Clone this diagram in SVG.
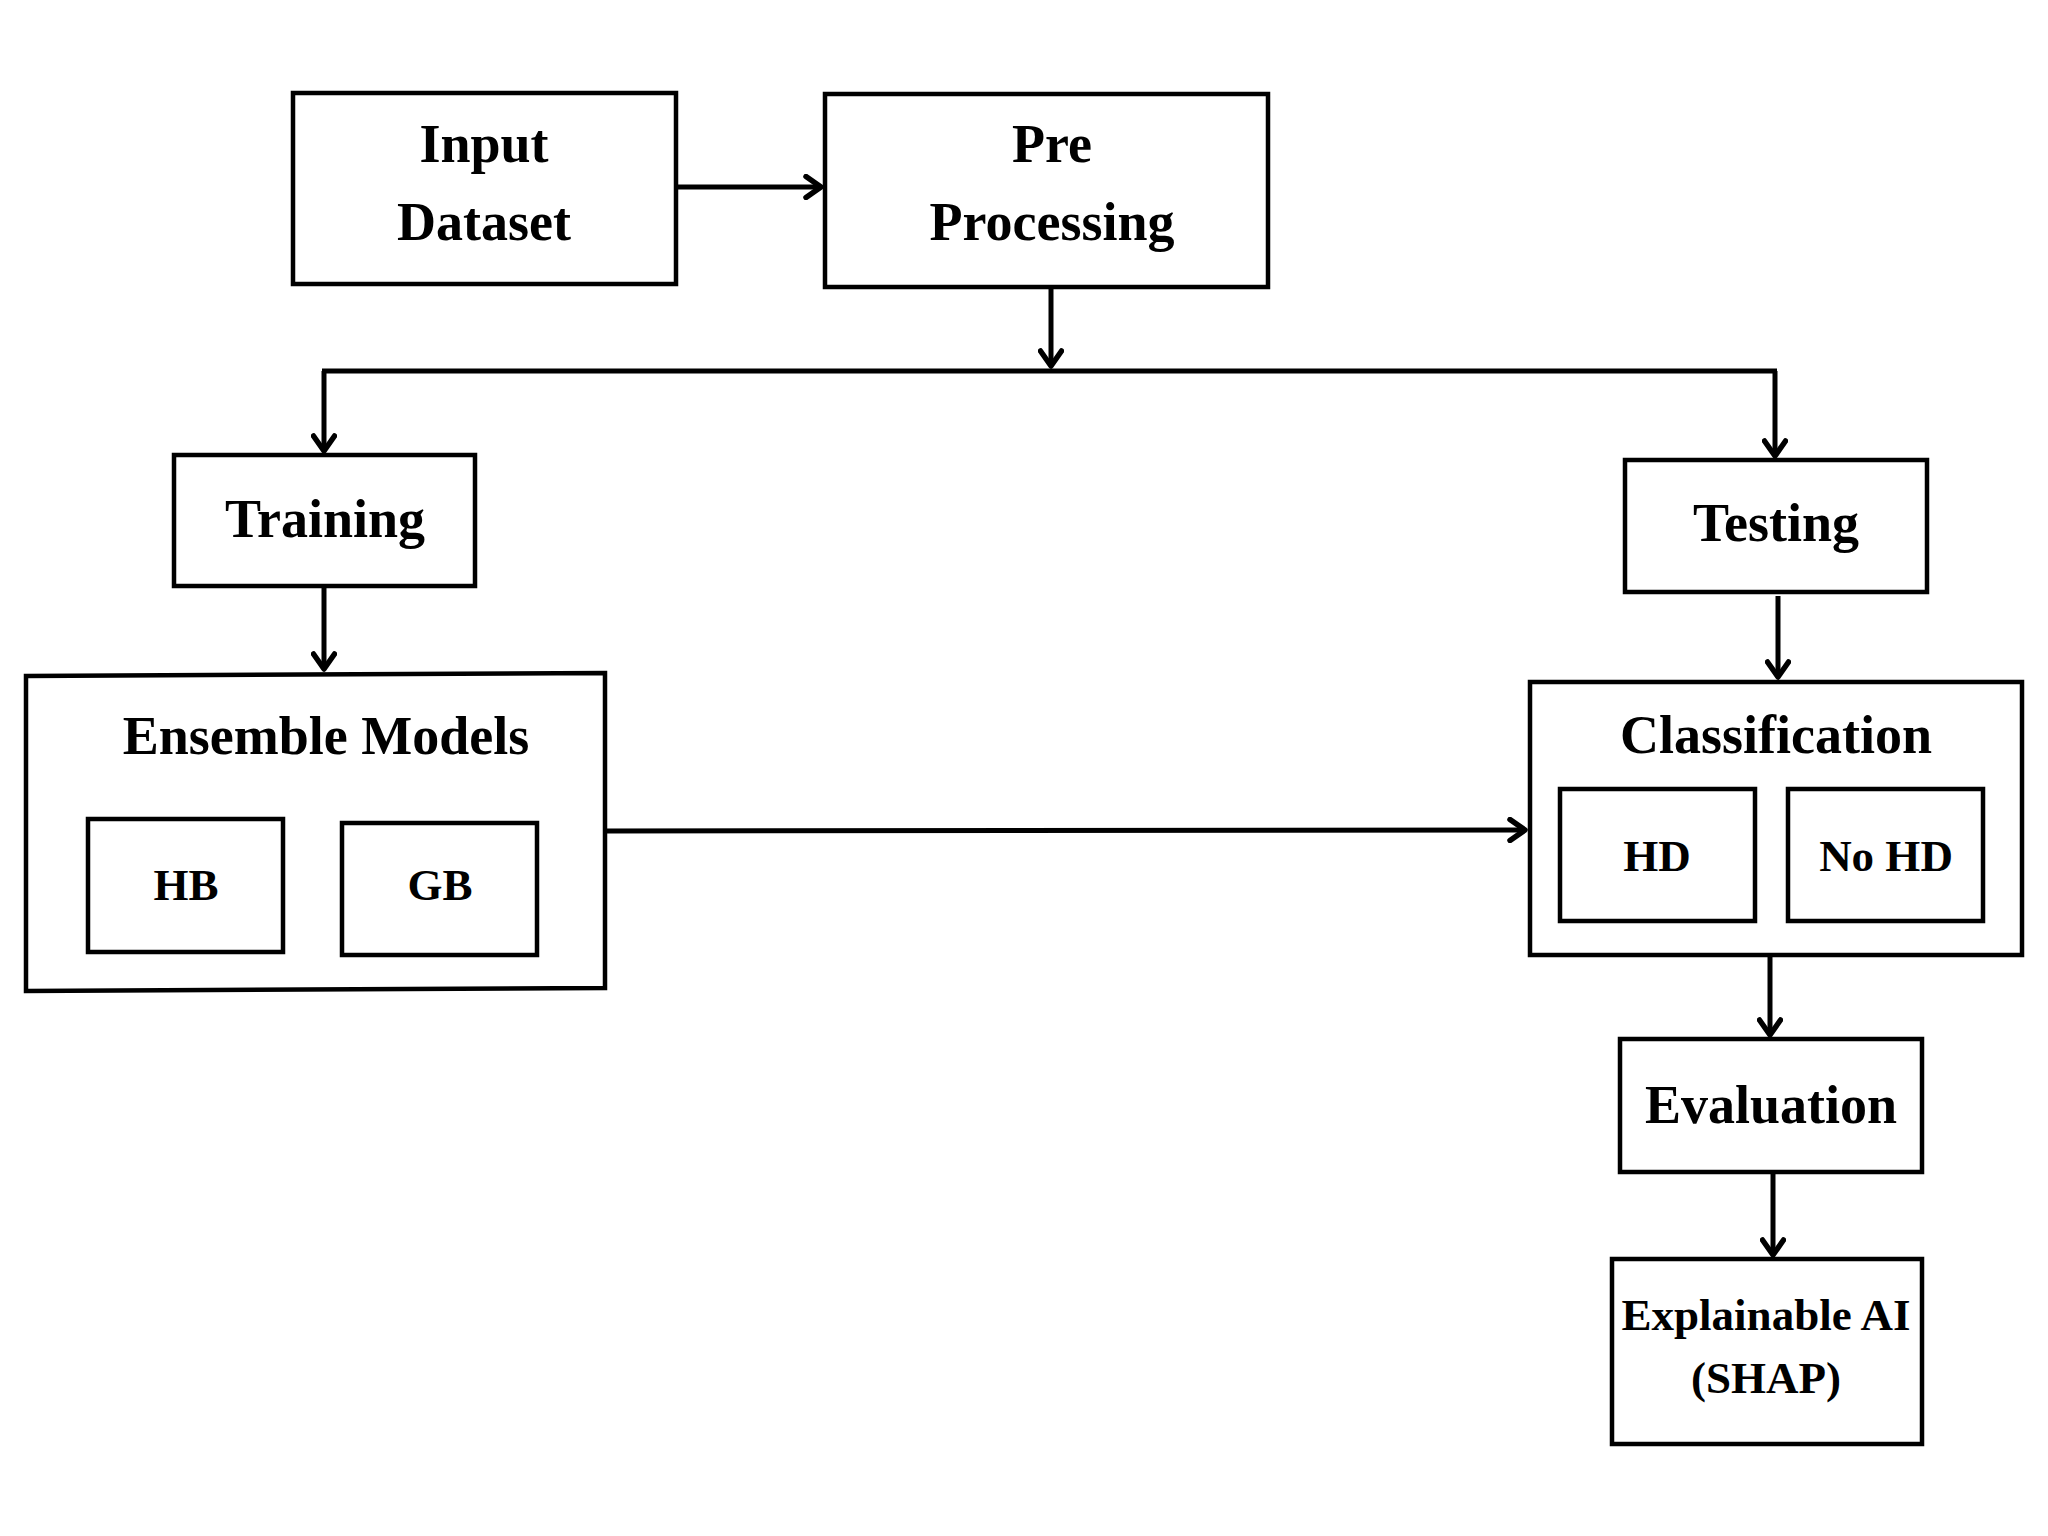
<svg xmlns="http://www.w3.org/2000/svg" width="2048" height="1536" viewBox="0 0 2048 1536">
<defs>
<style>
.box{fill:#fff;stroke:#000;stroke-width:4.5}
.lbl{font-family:"Liberation Serif","Times New Roman",serif;font-weight:bold;font-size:54px;fill:#000;text-anchor:middle}
.sm{font-size:45px}
.con{fill:none;stroke:#000;stroke-width:5}
</style>
<marker id="arr" viewBox="0 0 26 26" refX="21" refY="13" markerWidth="26" markerHeight="26" markerUnits="userSpaceOnUse" orient="auto">
<path d="M6,2.5 L21,13 L6,23.5" fill="none" stroke="#000" stroke-width="5.5" stroke-linecap="round" stroke-linejoin="round"/>
</marker>
</defs>
<rect width="2048" height="1536" fill="#fff"/>
<g id="connectors">
<line class="con" x1="676" y1="187" x2="821" y2="187" stroke-width="5.5" marker-end="url(#arr)"/>
<line class="con" x1="1051" y1="287" x2="1051" y2="366" marker-end="url(#arr)"/>
<line class="con" x1="322" y1="371" x2="1777" y2="371"/>
<line class="con" x1="324" y1="371" x2="324" y2="451" marker-end="url(#arr)"/>
<line class="con" x1="1775" y1="371" x2="1775" y2="456" marker-end="url(#arr)"/>
<line class="con" x1="324" y1="588" x2="324" y2="669" marker-end="url(#arr)"/>
<line class="con" x1="1778" y1="596" x2="1778" y2="677" marker-end="url(#arr)"/>
<line class="con" x1="607" y1="831" x2="1525" y2="830" marker-end="url(#arr)"/>
<line class="con" x1="1770" y1="957" x2="1770" y2="1035" marker-end="url(#arr)"/>
<line class="con" x1="1773" y1="1174" x2="1773" y2="1255" marker-end="url(#arr)"/>
</g>
<g id="input-dataset">
<rect class="box" x="293" y="93" width="383" height="191"/>
<text class="lbl" x="484" y="162">Input</text>
<text class="lbl" x="484" y="240">Dataset</text>
</g>
<g id="pre-processing">
<rect class="box" x="825" y="94" width="443" height="193"/>
<text class="lbl" x="1052" y="162">Pre</text>
<text class="lbl" x="1052" y="240">Processing</text>
</g>
<g id="training">
<rect class="box" x="174" y="455" width="301" height="131"/>
<text class="lbl" x="325" y="537">Training</text>
</g>
<g id="testing">
<rect class="box" x="1625" y="460" width="302" height="132"/>
<text class="lbl" x="1776" y="541">Testing</text>
</g>
<g id="ensemble-models">
<polygon class="box" points="26,676 605,673 605,988 26,991"/>
<text class="lbl" x="326" y="754">Ensemble Models</text>
</g>
<g id="hb">
<rect class="box" x="88" y="819" width="195" height="133"/>
<text class="lbl sm" x="186" y="900">HB</text>
</g>
<g id="gb">
<rect class="box" x="342" y="823" width="195" height="132"/>
<text class="lbl sm" x="440" y="900">GB</text>
</g>
<g id="classification">
<rect class="box" x="1530" y="682" width="492" height="273"/>
<text class="lbl" x="1776" y="753">Classification</text>
</g>
<g id="hd">
<rect class="box" x="1560" y="789" width="195" height="132"/>
<text class="lbl sm" x="1657" y="871">HD</text>
</g>
<g id="no-hd">
<rect class="box" x="1788" y="789" width="195" height="132"/>
<text class="lbl sm" x="1886" y="871">No HD</text>
</g>
<g id="evaluation">
<rect class="box" x="1620" y="1039" width="302" height="133"/>
<text class="lbl" x="1771" y="1123">Evaluation</text>
</g>
<g id="explainable-ai">
<rect class="box" x="1612" y="1259" width="310" height="185"/>
<text class="lbl sm" x="1766" y="1330">Explainable AI</text>
<text class="lbl sm" x="1766" y="1393">(SHAP)</text>
</g>
</svg>
